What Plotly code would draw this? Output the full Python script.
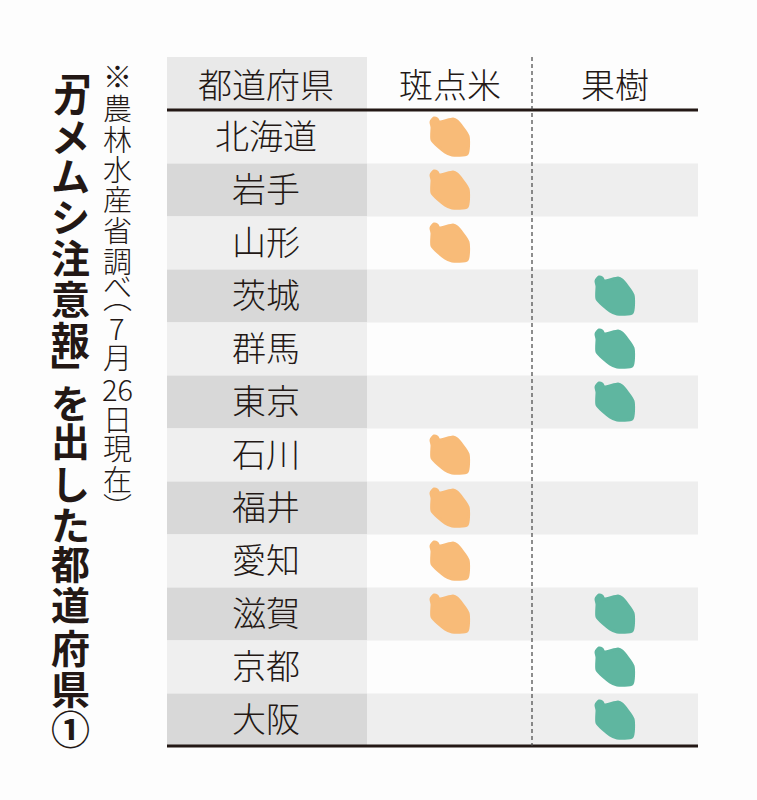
import plotly.graph_objects as go

prefectures = ["北海道", "岩手", "山形", "茨城", "群馬", "東京", "石川", "福井", "愛知", "滋賀", "京都", "大阪"]
rice_flags = [1, 1, 1, 0, 0, 0, 1, 1, 1, 1, 0, 0]
fruit_flags = [0, 0, 0, 1, 1, 1, 0, 0, 0, 1, 1, 1]
headers = ["都道府県", "斑点米", "果樹"]
title_text = "﹁カメムシ注意報﹂を出した都道府県①"
note_chars = ["※", "農", "林", "水", "産", "省", "調", "べ", "︵", "7", "月", "26", "日", "現", "在", "︶"]

FONT = "Noto Sans CJK JP"
INK = "#231815"
ORANGE = "#f8bb78"
GREEN = "#5fb6a0"

# page pixels -> row units, rows are 53px apart
def row_y(p):
    return (p - 137) / 53

COL_X = [266, 450, 615]
HEADER_P = 89
TEXT_SHIFT = 3 / 53

# typeset positions of the vertical text (page px)
title_p = [67, 96, 135, 174, 215, 256, 297, 338, 371, 401, 439, 482, 523, 562, 603, 646, 687, 727]
note_p = [75, 107, 138, 168, 198, 229, 260, 285, 296, 327, 356, 388, 418, 447, 478, 506]

# grain outline round its centre, px
grain_dx = [-11, 3, 7, 18, 17, 2, -5, -18, -18, -19, -16, -13]
grain_dy = [-15, -18, -16, -1, 17, 18, 15, 3, -10, -15, -19, -18]


def grain_trace(flags, cx, color, name):
    xs, ys = [], []
    for i, f in enumerate(flags):
        if not f:
            continue
        xs += [cx + d for d in grain_dx] + [cx + grain_dx[0], None]
        ys += [i + d / 53 for d in grain_dy] + [i + grain_dy[0] / 53, None]
    return go.Scatter(x=xs, y=ys, mode="lines", fill="toself", fillcolor=color, name=name,
                      line=dict(color=color, width=3, shape="spline", smoothing=0.6), hoverinfo="skip")


fig = go.Figure()

shapes = []
# header cell and bands
shapes.append(dict(type="rect", x0=167, x1=367, y0=row_y(57), y1=row_y(110), fillcolor="#e9e9e9", line_width=0, layer="below"))
for i in range(len(prefectures)):
    top = i - 0.5
    first = "#d8d8d8" if i % 2 else "#efefef"
    shapes.append(dict(type="rect", x0=167, x1=367, y0=top, y1=top + 1, fillcolor=first, line_width=0, layer="below"))
    if i % 2:
        shapes.append(dict(type="rect", x0=367, x1=698, y0=top, y1=top + 1, fillcolor="#eeeeee", line_width=0, layer="below"))
# rules
shapes.append(dict(type="line", x0=167, x1=698, y0=row_y(110), y1=row_y(110), line=dict(color=INK, width=3)))
shapes.append(dict(type="line", x0=167, x1=698, y0=row_y(746), y1=row_y(746), line=dict(color=INK, width=3)))
shapes.append(dict(type="line", x0=532, x1=532, y0=row_y(57), y1=row_y(746), line=dict(color="#444444", width=1.2, dash="4px,3px")))

fig.add_trace(grain_trace(rice_flags, COL_X[1], ORANGE, "斑点米"))
fig.add_trace(grain_trace(fruit_flags, COL_X[2], GREEN, "果樹"))

fig.add_trace(go.Scatter(x=[COL_X[0]] * len(prefectures), y=[i + TEXT_SHIFT for i in range(len(prefectures))], text=prefectures,
                         mode="text", textposition="middle center", hoverinfo="skip",
                         textfont=dict(family=FONT, size=34, color=INK, weight=300)))
fig.add_trace(go.Scatter(x=COL_X, y=[row_y(HEADER_P)] * 3, text=headers, mode="text",
                         textposition="middle center", hoverinfo="skip",
                         textfont=dict(family=FONT, size=34, color=INK, weight=300)))

annotations = []
for ch, p in zip(title_text, title_p):
    annotations.append(dict(x=70, y=row_y(p), text=ch, showarrow=False, xanchor="center", yanchor="middle",
                            font=dict(family=FONT, size=39, color=INK, weight=700)))
for ch, p in zip(note_chars, note_p):
    annotations.append(dict(x=117, y=row_y(p), text=ch, showarrow=False, xanchor="center", yanchor="middle",
                            font=dict(family=FONT, size=29, color=INK, weight=300)))

fig.update_layout(
    width=757, height=800, margin=dict(l=0, r=0, t=0, b=0), showlegend=False,
    paper_bgcolor="#fdfdfd", plot_bgcolor="#fdfdfd",
    shapes=shapes, annotations=annotations,
    xaxis=dict(range=[0, 757], visible=False, fixedrange=True),
    yaxis=dict(range=[row_y(800), row_y(0)], visible=False, fixedrange=True),
)

fig.write_html("out.html", config=dict(displayModeBar=False), post_script="document.body.style.margin='0';")
